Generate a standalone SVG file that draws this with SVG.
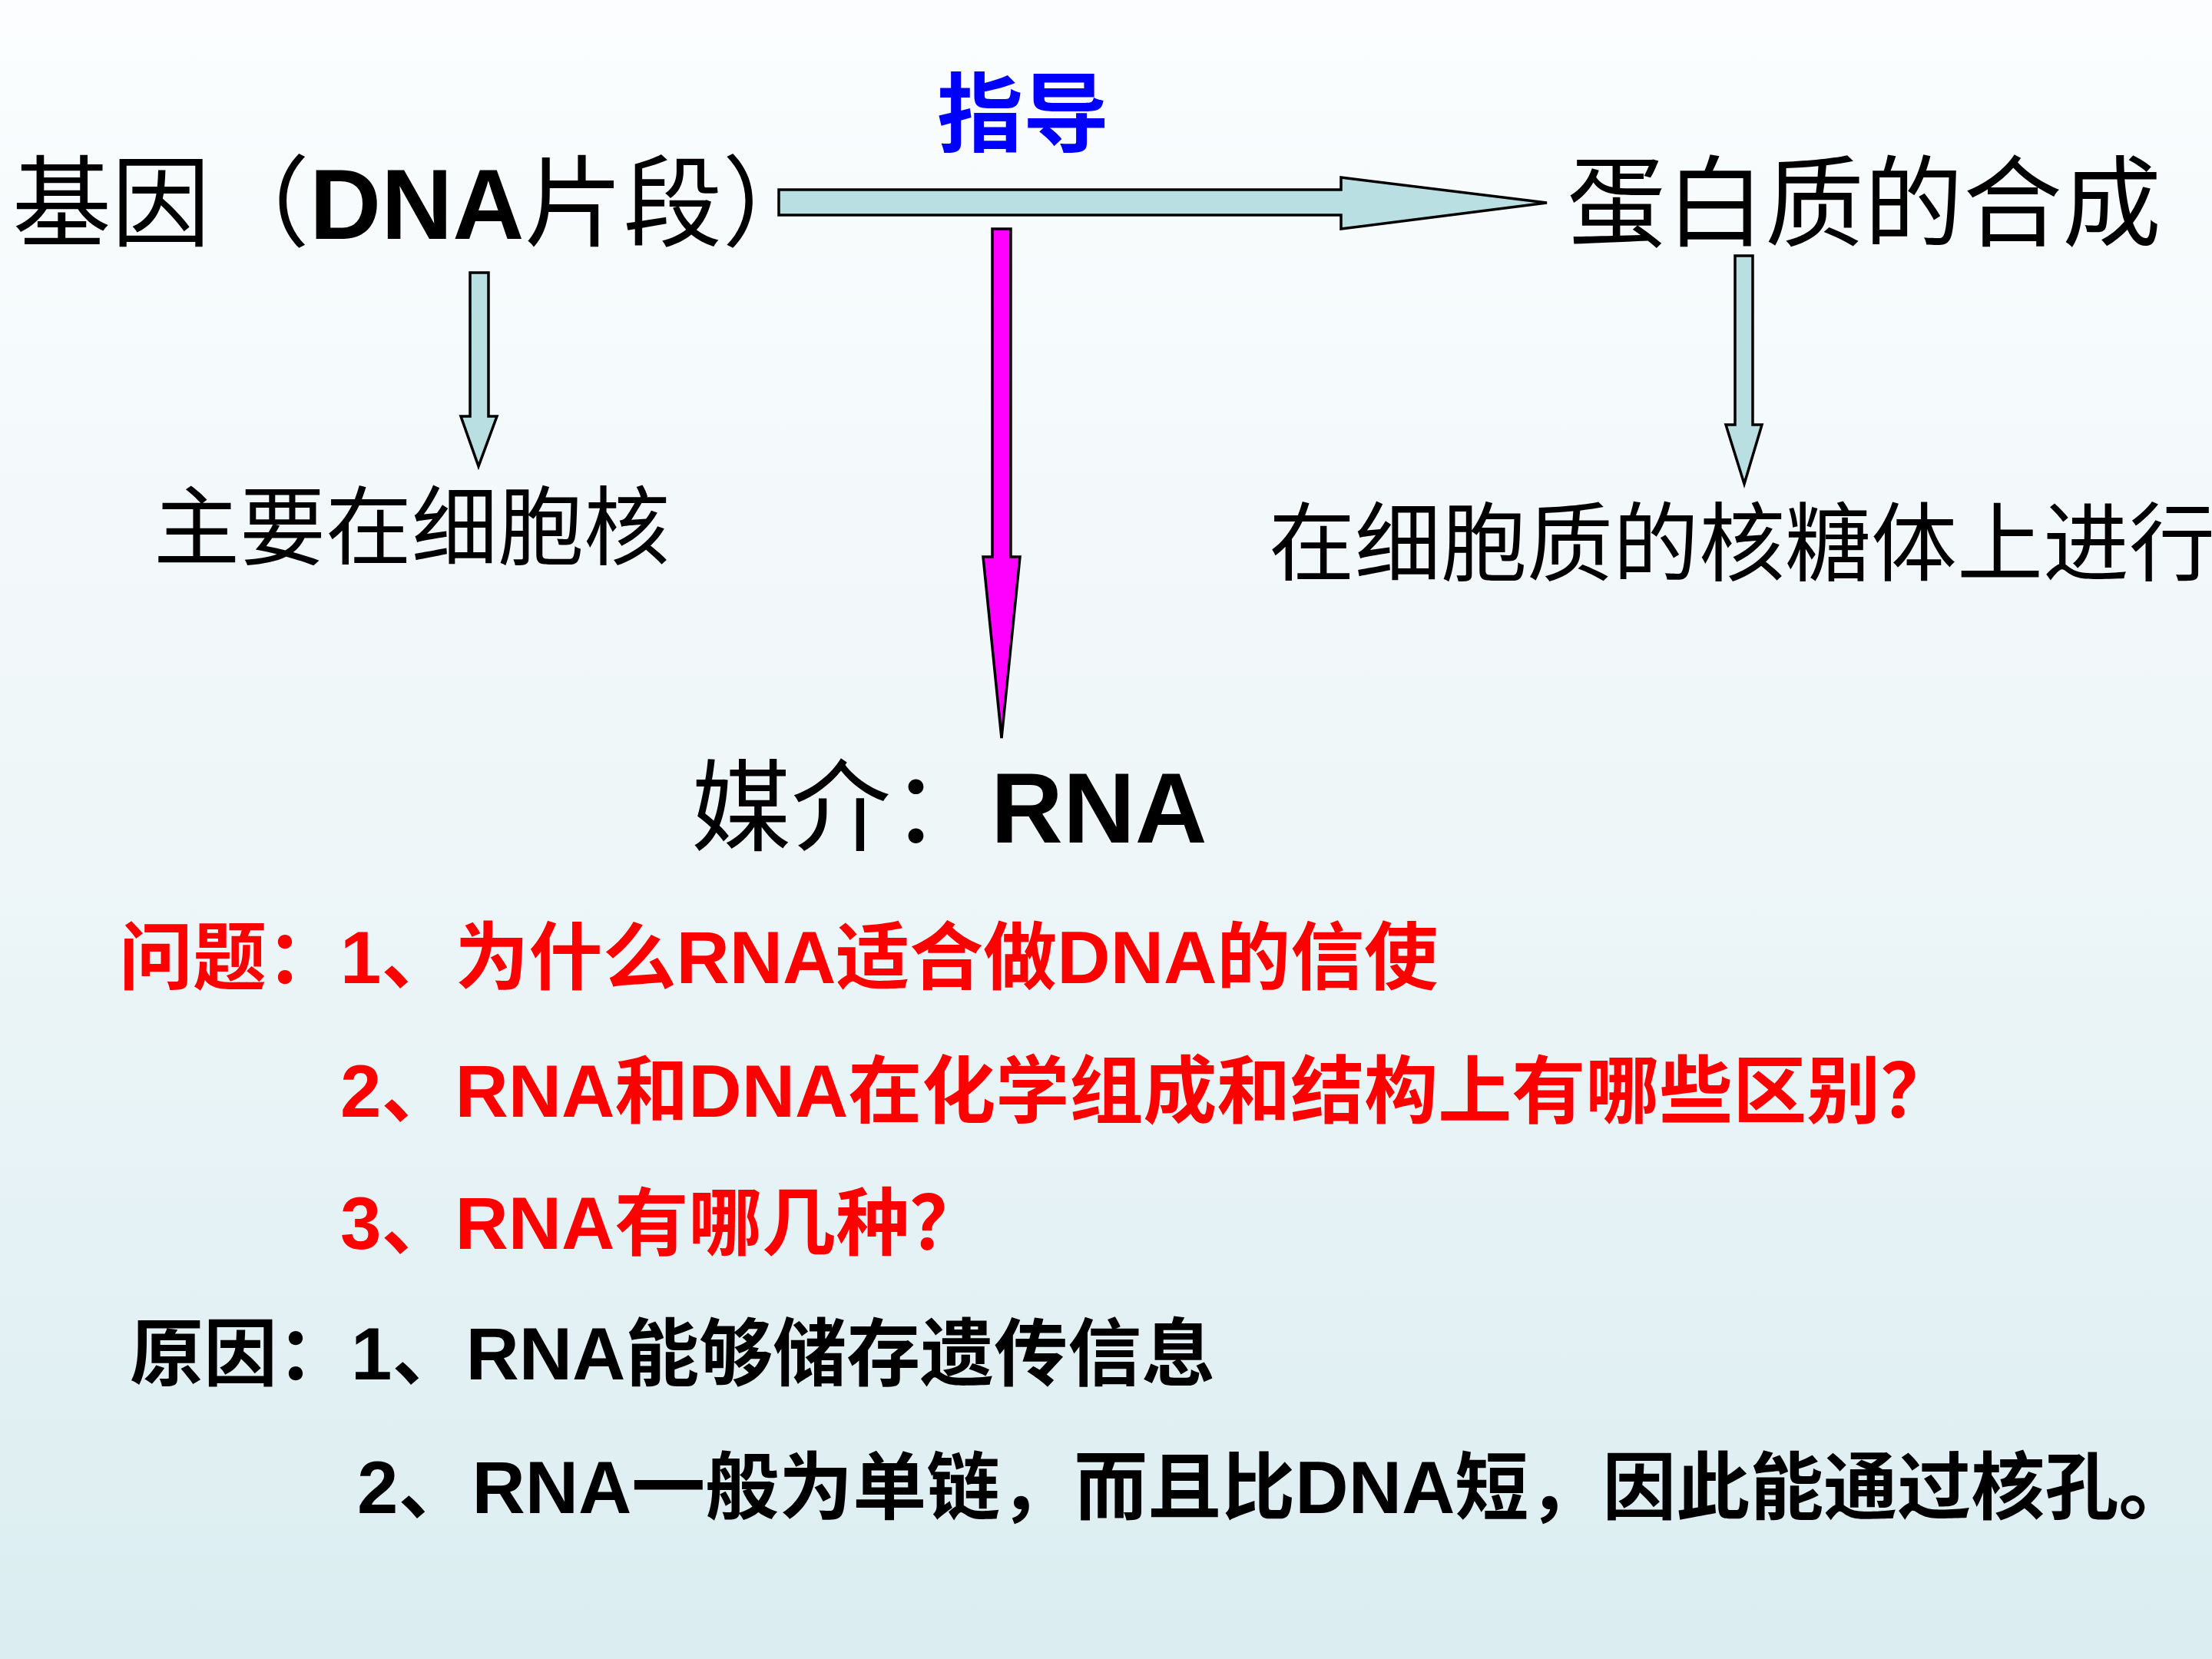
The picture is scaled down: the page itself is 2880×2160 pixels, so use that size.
<svg xmlns="http://www.w3.org/2000/svg" width="2880" height="2160" viewBox="0 0 2880 2160">
<defs>
<linearGradient id="bg" x1="0" y1="0" x2="0" y2="1">
<stop offset="0" stop-color="#fbfdfe"/>
<stop offset="0.5" stop-color="#eef6f8"/>
<stop offset="1" stop-color="#dbedf1"/>
</linearGradient>
<style>
.t{font-family:"Liberation Sans","Noto Sans CJK SC",sans-serif;}
.big{font-size:129px;fill:#000;}
.mid{font-size:112px;fill:#000;}
.q{font-size:96px;font-weight:bold;fill:#ff0000;}
.a{font-size:96px;font-weight:bold;fill:#000;}
.b{font-weight:bold;}
.arr{stroke:#000;stroke-width:3.5;stroke-linejoin:miter;}
.blue{fill:#b9dfe2;}
.mag{fill:#ff00ff;}
</style>
</defs>
<rect width="2880" height="2160" fill="url(#bg)"/>
<g id="connectors">
<polygon id="arrow-gene-protein" class="arr blue" points="1014,247 1746,247 1746,231 2014,264 1746,298 1746,280 1014,280"/>
<polygon id="arrow-gene-rna" class="arr mag" points="1292,298 1316,298 1316,725 1328,725 1304,961 1280,725 1292,725"/>
<polygon id="arrow-gene-nucleus" class="arr blue" points="612,355 636,355 636,542 647,542 623,607 600,542 612,542"/>
<polygon id="arrow-protein-ribosome" class="arr blue" points="2259,333 2282,333 2282,553 2294,553 2271,630 2247,553 2259,553"/>
</g>
<g id="node-guide"><text class="t b" x="1220" y="189" font-size="112" fill="#0000ff">指导</text></g>
<g id="node-gene"><text class="t big" x="16" y="311">基因（<tspan class="b">DNA</tspan>片段）</text></g>
<g id="node-protein"><text class="t big" x="2040" y="311">蛋白质的合成</text></g>
<g id="node-nucleus"><text class="t mid" x="200" y="727">主要在细胞核</text></g>
<g id="node-ribosome"><text class="t mid" x="1652" y="748">在细胞质的核糖体上进行</text></g>
<g id="node-rna"><text class="t" x="900" y="1097" font-size="130">媒介：<tspan class="b">RNA</tspan></text></g>
<g id="questions">
<text class="t q" x="155" y="1280">问题：1、为什么RNA适合做DNA的信使</text>
<text class="t q" x="443" y="1454">2、RNA和DNA在化学组成和结构上有哪些区别？</text>
<text class="t q" x="443" y="1626">3、RNA有哪几种？</text>
</g>
<g id="reasons">
<text class="t a" x="169" y="1796">原因：1、RNA能够储存遗传信息</text>
<text class="t a" x="465" y="1970">2、RNA一般为单链，而且比DNA短，因此能通过核孔。</text>
</g>
</svg>
